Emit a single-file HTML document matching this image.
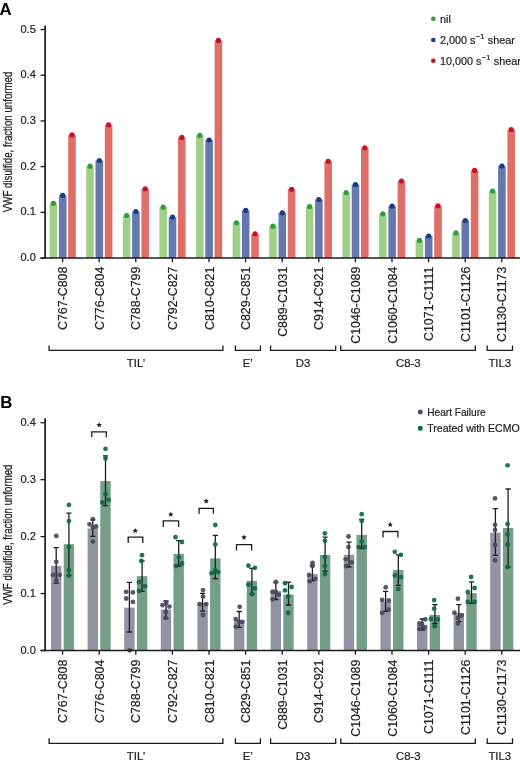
<!DOCTYPE html>
<html><head><meta charset="utf-8"><style>
html,body{margin:0;padding:0;background:#fff;}
svg{display:block;will-change:transform;}
text{font-family:"Liberation Sans", sans-serif;}
.t{stroke:#222;stroke-width:0.2px;}
</style></head><body>
<svg width="520" height="763" viewBox="0 0 520 763" font-family='"Liberation Sans", sans-serif'>
<rect width="520" height="763" fill="#fff"/>
<text x="-0.5" y="14.6" font-size="16.8" font-weight="bold">A</text>
<rect x="49.60" y="203.30" width="7.6" height="54.70" fill="#a0cf8a"/>
<rect x="58.90" y="195.40" width="7.6" height="62.60" fill="#6679ae"/>
<rect x="68.20" y="134.90" width="7.6" height="123.10" fill="#df6f66"/>
<rect x="86.20" y="166.20" width="7.6" height="91.80" fill="#a0cf8a"/>
<rect x="95.50" y="160.50" width="7.6" height="97.50" fill="#6679ae"/>
<rect x="104.80" y="124.80" width="7.6" height="133.20" fill="#df6f66"/>
<rect x="122.80" y="215.50" width="7.6" height="42.50" fill="#a0cf8a"/>
<rect x="132.10" y="211.60" width="7.6" height="46.40" fill="#6679ae"/>
<rect x="141.40" y="188.80" width="7.6" height="69.20" fill="#df6f66"/>
<rect x="159.40" y="207.20" width="7.6" height="50.80" fill="#a0cf8a"/>
<rect x="168.70" y="217.10" width="7.6" height="40.90" fill="#6679ae"/>
<rect x="178.00" y="137.40" width="7.6" height="120.60" fill="#df6f66"/>
<rect x="196.00" y="135.40" width="7.6" height="122.60" fill="#a0cf8a"/>
<rect x="205.30" y="140.00" width="7.6" height="118.00" fill="#6679ae"/>
<rect x="214.60" y="40.40" width="7.6" height="217.60" fill="#df6f66"/>
<rect x="232.60" y="222.80" width="7.6" height="35.20" fill="#a0cf8a"/>
<rect x="241.90" y="210.40" width="7.6" height="47.60" fill="#6679ae"/>
<rect x="251.20" y="233.80" width="7.6" height="24.20" fill="#df6f66"/>
<rect x="269.20" y="226.20" width="7.6" height="31.80" fill="#a0cf8a"/>
<rect x="278.50" y="212.80" width="7.6" height="45.20" fill="#6679ae"/>
<rect x="287.80" y="189.30" width="7.6" height="68.70" fill="#df6f66"/>
<rect x="305.80" y="206.60" width="7.6" height="51.40" fill="#a0cf8a"/>
<rect x="315.10" y="199.50" width="7.6" height="58.50" fill="#6679ae"/>
<rect x="324.40" y="161.30" width="7.6" height="96.70" fill="#df6f66"/>
<rect x="342.40" y="192.60" width="7.6" height="65.40" fill="#a0cf8a"/>
<rect x="351.70" y="184.50" width="7.6" height="73.50" fill="#6679ae"/>
<rect x="361.00" y="147.80" width="7.6" height="110.20" fill="#df6f66"/>
<rect x="379.00" y="213.80" width="7.6" height="44.20" fill="#a0cf8a"/>
<rect x="388.30" y="206.20" width="7.6" height="51.80" fill="#6679ae"/>
<rect x="397.60" y="181.10" width="7.6" height="76.90" fill="#df6f66"/>
<rect x="415.60" y="240.40" width="7.6" height="17.60" fill="#a0cf8a"/>
<rect x="424.90" y="236.00" width="7.6" height="22.00" fill="#6679ae"/>
<rect x="434.20" y="205.80" width="7.6" height="52.20" fill="#df6f66"/>
<rect x="452.20" y="232.90" width="7.6" height="25.10" fill="#a0cf8a"/>
<rect x="461.50" y="220.60" width="7.6" height="37.40" fill="#6679ae"/>
<rect x="470.80" y="170.40" width="7.6" height="87.60" fill="#df6f66"/>
<rect x="488.80" y="191.00" width="7.6" height="67.00" fill="#a0cf8a"/>
<rect x="498.10" y="166.00" width="7.6" height="92.00" fill="#6679ae"/>
<rect x="507.40" y="129.60" width="7.6" height="128.40" fill="#df6f66"/>
<circle cx="53.40" cy="203.30" r="2.6" fill="#2f9e35"/>
<circle cx="62.70" cy="195.40" r="2.6" fill="#173e7c"/>
<circle cx="72.00" cy="134.90" r="2.6" fill="#c5102b"/>
<circle cx="90.00" cy="166.20" r="2.6" fill="#2f9e35"/>
<circle cx="99.30" cy="160.50" r="2.6" fill="#173e7c"/>
<circle cx="108.60" cy="124.80" r="2.6" fill="#c5102b"/>
<circle cx="126.60" cy="215.50" r="2.6" fill="#2f9e35"/>
<circle cx="135.90" cy="211.60" r="2.6" fill="#173e7c"/>
<circle cx="145.20" cy="188.80" r="2.6" fill="#c5102b"/>
<circle cx="163.20" cy="207.20" r="2.6" fill="#2f9e35"/>
<circle cx="172.50" cy="217.10" r="2.6" fill="#173e7c"/>
<circle cx="181.80" cy="137.40" r="2.6" fill="#c5102b"/>
<circle cx="199.80" cy="135.40" r="2.6" fill="#2f9e35"/>
<circle cx="209.10" cy="140.00" r="2.6" fill="#173e7c"/>
<circle cx="218.40" cy="40.40" r="2.6" fill="#c5102b"/>
<circle cx="236.40" cy="222.80" r="2.6" fill="#2f9e35"/>
<circle cx="245.70" cy="210.40" r="2.6" fill="#173e7c"/>
<circle cx="255.00" cy="233.80" r="2.6" fill="#c5102b"/>
<circle cx="273.00" cy="226.20" r="2.6" fill="#2f9e35"/>
<circle cx="282.30" cy="212.80" r="2.6" fill="#173e7c"/>
<circle cx="291.60" cy="189.30" r="2.6" fill="#c5102b"/>
<circle cx="309.60" cy="206.60" r="2.6" fill="#2f9e35"/>
<circle cx="318.90" cy="199.50" r="2.6" fill="#173e7c"/>
<circle cx="328.20" cy="161.30" r="2.6" fill="#c5102b"/>
<circle cx="346.20" cy="192.60" r="2.6" fill="#2f9e35"/>
<circle cx="355.50" cy="184.50" r="2.6" fill="#173e7c"/>
<circle cx="364.80" cy="147.80" r="2.6" fill="#c5102b"/>
<circle cx="382.80" cy="213.80" r="2.6" fill="#2f9e35"/>
<circle cx="392.10" cy="206.20" r="2.6" fill="#173e7c"/>
<circle cx="401.40" cy="181.10" r="2.6" fill="#c5102b"/>
<circle cx="419.40" cy="240.40" r="2.6" fill="#2f9e35"/>
<circle cx="428.70" cy="236.00" r="2.6" fill="#173e7c"/>
<circle cx="438.00" cy="205.80" r="2.6" fill="#c5102b"/>
<circle cx="456.00" cy="232.90" r="2.6" fill="#2f9e35"/>
<circle cx="465.30" cy="220.60" r="2.6" fill="#173e7c"/>
<circle cx="474.60" cy="170.40" r="2.6" fill="#c5102b"/>
<circle cx="492.60" cy="191.00" r="2.6" fill="#2f9e35"/>
<circle cx="501.90" cy="166.00" r="2.6" fill="#173e7c"/>
<circle cx="511.20" cy="129.60" r="2.6" fill="#c5102b"/>
<line x1="45.1" y1="25.5" x2="45.1" y2="258.7" stroke="#1c1c1c" stroke-width="1.7"/>
<line x1="40.5" y1="258.0" x2="520" y2="258.0" stroke="#1c1c1c" stroke-width="1.5"/>
<line x1="40.5" y1="258.00" x2="45" y2="258.00" stroke="#1c1c1c" stroke-width="1.3"/>
<text x="35.8" y="261.00" font-size="11" text-anchor="end" fill="#222" class="t">0.0</text>
<line x1="40.5" y1="212.30" x2="45" y2="212.30" stroke="#1c1c1c" stroke-width="1.3"/>
<text x="35.8" y="215.30" font-size="11" text-anchor="end" fill="#222" class="t">0.1</text>
<line x1="40.5" y1="166.60" x2="45" y2="166.60" stroke="#1c1c1c" stroke-width="1.3"/>
<text x="35.8" y="169.60" font-size="11" text-anchor="end" fill="#222" class="t">0.2</text>
<line x1="40.5" y1="120.90" x2="45" y2="120.90" stroke="#1c1c1c" stroke-width="1.3"/>
<text x="35.8" y="123.90" font-size="11" text-anchor="end" fill="#222" class="t">0.3</text>
<line x1="40.5" y1="75.20" x2="45" y2="75.20" stroke="#1c1c1c" stroke-width="1.3"/>
<text x="35.8" y="78.20" font-size="11" text-anchor="end" fill="#222" class="t">0.4</text>
<line x1="40.5" y1="29.50" x2="45" y2="29.50" stroke="#1c1c1c" stroke-width="1.3"/>
<text x="35.8" y="32.50" font-size="11" text-anchor="end" fill="#222" class="t">0.5</text>
<line x1="62.60" y1="258.0" x2="62.60" y2="262.2" stroke="#1c1c1c" stroke-width="1.3"/>
<line x1="99.20" y1="258.0" x2="99.20" y2="262.2" stroke="#1c1c1c" stroke-width="1.3"/>
<line x1="135.80" y1="258.0" x2="135.80" y2="262.2" stroke="#1c1c1c" stroke-width="1.3"/>
<line x1="172.40" y1="258.0" x2="172.40" y2="262.2" stroke="#1c1c1c" stroke-width="1.3"/>
<line x1="209.00" y1="258.0" x2="209.00" y2="262.2" stroke="#1c1c1c" stroke-width="1.3"/>
<line x1="245.60" y1="258.0" x2="245.60" y2="262.2" stroke="#1c1c1c" stroke-width="1.3"/>
<line x1="282.20" y1="258.0" x2="282.20" y2="262.2" stroke="#1c1c1c" stroke-width="1.3"/>
<line x1="318.80" y1="258.0" x2="318.80" y2="262.2" stroke="#1c1c1c" stroke-width="1.3"/>
<line x1="355.40" y1="258.0" x2="355.40" y2="262.2" stroke="#1c1c1c" stroke-width="1.3"/>
<line x1="392.00" y1="258.0" x2="392.00" y2="262.2" stroke="#1c1c1c" stroke-width="1.3"/>
<line x1="428.60" y1="258.0" x2="428.60" y2="262.2" stroke="#1c1c1c" stroke-width="1.3"/>
<line x1="465.20" y1="258.0" x2="465.20" y2="262.2" stroke="#1c1c1c" stroke-width="1.3"/>
<line x1="501.80" y1="258.0" x2="501.80" y2="262.2" stroke="#1c1c1c" stroke-width="1.3"/>
<text transform="translate(67.10,266.6) rotate(-90)" font-size="12.4" text-anchor="end" fill="#222" class="t">C767-C808</text>
<text transform="translate(103.70,266.6) rotate(-90)" font-size="12.4" text-anchor="end" fill="#222" class="t">C776-C804</text>
<text transform="translate(140.30,266.6) rotate(-90)" font-size="12.4" text-anchor="end" fill="#222" class="t">C788-C799</text>
<text transform="translate(176.90,266.6) rotate(-90)" font-size="12.4" text-anchor="end" fill="#222" class="t">C792-C827</text>
<text transform="translate(213.50,266.6) rotate(-90)" font-size="12.4" text-anchor="end" fill="#222" class="t">C810-C821</text>
<text transform="translate(250.10,266.6) rotate(-90)" font-size="12.4" text-anchor="end" fill="#222" class="t">C829-C851</text>
<text transform="translate(286.70,266.6) rotate(-90)" font-size="12.4" text-anchor="end" fill="#222" class="t">C889-C1031</text>
<text transform="translate(323.30,266.6) rotate(-90)" font-size="12.4" text-anchor="end" fill="#222" class="t">C914-C921</text>
<text transform="translate(359.90,266.6) rotate(-90)" font-size="12.4" text-anchor="end" fill="#222" class="t">C1046-C1089</text>
<text transform="translate(396.50,266.6) rotate(-90)" font-size="12.4" text-anchor="end" fill="#222" class="t">C1060-C1084</text>
<text transform="translate(433.10,266.6) rotate(-90)" font-size="12.4" text-anchor="end" fill="#222" class="t">C1071-C1111</text>
<text transform="translate(469.70,266.6) rotate(-90)" font-size="12.4" text-anchor="end" fill="#222" class="t">C1101-C1126</text>
<text transform="translate(506.30,266.6) rotate(-90)" font-size="12.4" text-anchor="end" fill="#222" class="t">C1130-C1173</text>
<text transform="translate(12.1,141.9) rotate(-90)" font-size="12.4" text-anchor="middle" textLength="140.5" lengthAdjust="spacingAndGlyphs" fill="#222" stroke="#222" stroke-width="0.25">VWF disulfide, fraction unformed</text>
<path d="M49.1,345.4 V350.4 H222.9 V345.4" fill="none" stroke="#1c1c1c" stroke-width="1.3"/>
<text x="136.0" y="367.3" font-size="11.4" text-anchor="middle" fill="#222" class="t">TIL’</text>
<path d="M235.4,345.4 V350.4 H260.4 V345.4" fill="none" stroke="#1c1c1c" stroke-width="1.3"/>
<text x="247.8" y="367.3" font-size="11.4" text-anchor="middle" fill="#222" class="t">E’</text>
<path d="M270.6,345.4 V350.4 H335.7 V345.4" fill="none" stroke="#1c1c1c" stroke-width="1.3"/>
<text x="303.1" y="367.3" font-size="11.4" text-anchor="middle" fill="#222" class="t">D3</text>
<path d="M340.8,345.4 V350.4 H475.3 V345.4" fill="none" stroke="#1c1c1c" stroke-width="1.3"/>
<text x="408.3" y="367.3" font-size="11.4" text-anchor="middle" fill="#222" class="t">C8-3</text>
<path d="M487.2,345.4 V350.4 H512.5 V345.4" fill="none" stroke="#1c1c1c" stroke-width="1.3"/>
<text x="499.8" y="367.3" font-size="11.4" text-anchor="middle" fill="#222" class="t">TIL3</text>
<circle cx="433.3" cy="18.8" r="2.3" fill="#2f9e35"/>
<text x="440" y="22.6" font-size="10.8" fill="#222" class="t">nil</text>
<circle cx="433.3" cy="40.0" r="2.3" fill="#173e7c"/>
<text x="440" y="43.8" font-size="10.8" fill="#222" class="t">2,000 s<tspan dx="0.4" dy="-5" font-size="7.4">−1</tspan><tspan dx="0.6" dy="5"> shear</tspan></text>
<circle cx="433.3" cy="60.8" r="2.3" fill="#c5102b"/>
<text x="440" y="64.6" font-size="10.8" fill="#222" class="t">10,000 s<tspan dx="0.4" dy="-5" font-size="7.4">−1</tspan><tspan dx="0.6" dy="5"> shear</tspan></text>
<text x="0.2" y="407.6" font-size="16.8" font-weight="bold">B</text>
<rect x="51.00" y="565.90" width="10.4" height="84.60" fill="#9394a3"/>
<rect x="63.70" y="544.20" width="10.4" height="106.30" fill="#759e87"/>
<rect x="87.60" y="528.50" width="10.4" height="122.00" fill="#9394a3"/>
<rect x="100.30" y="481.00" width="10.4" height="169.50" fill="#759e87"/>
<rect x="124.20" y="607.60" width="10.4" height="42.90" fill="#9394a3"/>
<rect x="136.90" y="576.10" width="10.4" height="74.40" fill="#759e87"/>
<rect x="160.80" y="609.60" width="10.4" height="40.90" fill="#9394a3"/>
<rect x="173.50" y="553.80" width="10.4" height="96.70" fill="#759e87"/>
<rect x="197.40" y="602.90" width="10.4" height="47.60" fill="#9394a3"/>
<rect x="210.10" y="558.30" width="10.4" height="92.20" fill="#759e87"/>
<rect x="234.00" y="620.20" width="10.4" height="30.30" fill="#9394a3"/>
<rect x="246.70" y="580.80" width="10.4" height="69.70" fill="#759e87"/>
<rect x="270.60" y="591.00" width="10.4" height="59.50" fill="#9394a3"/>
<rect x="283.30" y="594.60" width="10.4" height="55.90" fill="#759e87"/>
<rect x="307.20" y="574.00" width="10.4" height="76.50" fill="#9394a3"/>
<rect x="319.90" y="555.00" width="10.4" height="95.50" fill="#759e87"/>
<rect x="343.80" y="554.80" width="10.4" height="95.70" fill="#9394a3"/>
<rect x="356.50" y="534.90" width="10.4" height="115.60" fill="#759e87"/>
<rect x="380.40" y="601.50" width="10.4" height="49.00" fill="#9394a3"/>
<rect x="393.10" y="570.00" width="10.4" height="80.50" fill="#759e87"/>
<rect x="417.00" y="624.80" width="10.4" height="25.70" fill="#9394a3"/>
<rect x="429.70" y="614.90" width="10.4" height="35.60" fill="#759e87"/>
<rect x="453.60" y="613.00" width="10.4" height="37.50" fill="#9394a3"/>
<rect x="466.30" y="593.10" width="10.4" height="57.40" fill="#759e87"/>
<rect x="490.20" y="532.60" width="10.4" height="117.90" fill="#9394a3"/>
<rect x="502.90" y="528.00" width="10.4" height="122.50" fill="#759e87"/>
<path d="M56.20,547.70 V583.20 M53.60,547.70 H58.80 M53.60,583.20 H58.80" stroke="#1e1e24" stroke-width="1.3" fill="none"/>
<circle cx="56.30" cy="535.90" r="2.4" fill="#474a5f" fill-opacity="0.92"/>
<circle cx="56.30" cy="561.80" r="2.4" fill="#474a5f" fill-opacity="0.92"/>
<circle cx="52.90" cy="574.90" r="2.4" fill="#474a5f" fill-opacity="0.92"/>
<circle cx="59.60" cy="574.90" r="2.4" fill="#474a5f" fill-opacity="0.92"/>
<circle cx="56.30" cy="580.40" r="2.4" fill="#474a5f" fill-opacity="0.92"/>
<path d="M68.90,513.10 V575.30 M66.30,513.10 H71.50 M66.30,575.30 H71.50" stroke="#1e1e24" stroke-width="1.3" fill="none"/>
<circle cx="68.90" cy="504.90" r="2.4" fill="#0c6a48" fill-opacity="0.92"/>
<circle cx="68.90" cy="521.10" r="2.4" fill="#0c6a48" fill-opacity="0.92"/>
<circle cx="68.90" cy="546.90" r="2.4" fill="#0c6a48" fill-opacity="0.92"/>
<circle cx="68.90" cy="570.20" r="2.4" fill="#0c6a48" fill-opacity="0.92"/>
<circle cx="68.90" cy="575.70" r="2.4" fill="#0c6a48" fill-opacity="0.92"/>
<path d="M92.80,519.90 V536.40 M90.20,519.90 H95.40 M90.20,536.40 H95.40" stroke="#1e1e24" stroke-width="1.3" fill="none"/>
<circle cx="92.90" cy="519.10" r="2.4" fill="#474a5f" fill-opacity="0.92"/>
<circle cx="89.50" cy="524.30" r="2.4" fill="#474a5f" fill-opacity="0.92"/>
<circle cx="96.10" cy="526.50" r="2.4" fill="#474a5f" fill-opacity="0.92"/>
<circle cx="92.90" cy="527.50" r="2.4" fill="#474a5f" fill-opacity="0.92"/>
<circle cx="92.90" cy="541.60" r="2.4" fill="#474a5f" fill-opacity="0.92"/>
<path d="M105.50,455.80 V505.70 M102.90,455.80 H108.10 M102.90,505.70 H108.10" stroke="#1e1e24" stroke-width="1.3" fill="none"/>
<circle cx="105.50" cy="448.80" r="2.4" fill="#0c6a48" fill-opacity="0.92"/>
<circle cx="105.50" cy="458.50" r="2.4" fill="#0c6a48" fill-opacity="0.92"/>
<circle cx="105.50" cy="494.20" r="2.4" fill="#0c6a48" fill-opacity="0.92"/>
<circle cx="102.40" cy="502.50" r="2.4" fill="#0c6a48" fill-opacity="0.92"/>
<circle cx="108.60" cy="499.80" r="2.4" fill="#0c6a48" fill-opacity="0.92"/>
<path d="M91.8,437.3 V431.8 H106.3 V437.3" fill="none" stroke="#1c1c1c" stroke-width="1.3"/>
<polygon points="99.20,422.10 99.96,423.95 101.96,424.10 100.44,425.40 100.90,427.35 99.20,426.30 97.50,427.35 97.96,425.40 96.44,424.10 98.44,423.95" fill="#1e1e1e"/>
<path d="M129.40,582.40 V632.00 M126.80,582.40 H132.00 M126.80,632.00 H132.00" stroke="#1e1e24" stroke-width="1.3" fill="none"/>
<circle cx="126.20" cy="591.80" r="2.4" fill="#474a5f" fill-opacity="0.92"/>
<circle cx="132.90" cy="592.40" r="2.4" fill="#474a5f" fill-opacity="0.92"/>
<circle cx="126.20" cy="598.50" r="2.4" fill="#474a5f" fill-opacity="0.92"/>
<circle cx="132.90" cy="601.90" r="2.4" fill="#474a5f" fill-opacity="0.92"/>
<circle cx="129.60" cy="650.30" r="2.4" fill="#474a5f" fill-opacity="0.92"/>
<path d="M142.10,560.90 V591.40 M139.50,560.90 H144.70 M139.50,591.40 H144.70" stroke="#1e1e24" stroke-width="1.3" fill="none"/>
<circle cx="142.00" cy="555.20" r="2.4" fill="#0c6a48" fill-opacity="0.92"/>
<circle cx="141.40" cy="560.90" r="2.4" fill="#0c6a48" fill-opacity="0.92"/>
<circle cx="139.00" cy="582.20" r="2.4" fill="#0c6a48" fill-opacity="0.92"/>
<circle cx="145.00" cy="586.30" r="2.4" fill="#0c6a48" fill-opacity="0.92"/>
<circle cx="139.00" cy="591.00" r="2.4" fill="#0c6a48" fill-opacity="0.92"/>
<path d="M128.2,543 V537.2 H142.8 V543" fill="none" stroke="#1c1c1c" stroke-width="1.3"/>
<polygon points="135.30,527.90 136.06,529.75 138.06,529.90 136.54,531.20 137.00,533.15 135.30,532.10 133.60,533.15 134.06,531.20 132.54,529.90 134.54,529.75" fill="#1e1e1e"/>
<path d="M166.00,601.00 V618.50 M163.40,601.00 H168.60 M163.40,618.50 H168.60" stroke="#1e1e24" stroke-width="1.3" fill="none"/>
<circle cx="162.50" cy="605.20" r="2.4" fill="#474a5f" fill-opacity="0.92"/>
<circle cx="166.20" cy="603.00" r="2.4" fill="#474a5f" fill-opacity="0.92"/>
<circle cx="169.40" cy="606.60" r="2.4" fill="#474a5f" fill-opacity="0.92"/>
<circle cx="165.80" cy="611.70" r="2.4" fill="#474a5f" fill-opacity="0.92"/>
<circle cx="165.80" cy="617.80" r="2.4" fill="#474a5f" fill-opacity="0.92"/>
<path d="M178.70,540.60 V566.00 M176.10,540.60 H181.30 M176.10,566.00 H181.30" stroke="#1e1e24" stroke-width="1.3" fill="none"/>
<circle cx="175.50" cy="537.20" r="2.4" fill="#0c6a48" fill-opacity="0.92"/>
<circle cx="182.00" cy="542.00" r="2.4" fill="#0c6a48" fill-opacity="0.92"/>
<circle cx="179.00" cy="557.30" r="2.4" fill="#0c6a48" fill-opacity="0.92"/>
<circle cx="175.90" cy="566.00" r="2.4" fill="#0c6a48" fill-opacity="0.92"/>
<circle cx="182.00" cy="563.40" r="2.4" fill="#0c6a48" fill-opacity="0.92"/>
<path d="M163.3,527 V520.9 H178.6 V527" fill="none" stroke="#1c1c1c" stroke-width="1.3"/>
<polygon points="170.80,511.60 171.56,513.45 173.56,513.60 172.04,514.90 172.50,516.85 170.80,515.80 169.10,516.85 169.56,514.90 168.04,513.60 170.04,513.45" fill="#1e1e1e"/>
<path d="M202.60,593.40 V611.10 M200.00,593.40 H205.20 M200.00,611.10 H205.20" stroke="#1e1e24" stroke-width="1.3" fill="none"/>
<circle cx="203.00" cy="590.10" r="2.4" fill="#474a5f" fill-opacity="0.92"/>
<circle cx="203.00" cy="596.60" r="2.4" fill="#474a5f" fill-opacity="0.92"/>
<circle cx="199.70" cy="604.20" r="2.4" fill="#474a5f" fill-opacity="0.92"/>
<circle cx="206.20" cy="604.20" r="2.4" fill="#474a5f" fill-opacity="0.92"/>
<circle cx="203.00" cy="615.00" r="2.4" fill="#474a5f" fill-opacity="0.92"/>
<path d="M215.30,535.40 V578.60 M212.70,535.40 H217.90 M212.70,578.60 H217.90" stroke="#1e1e24" stroke-width="1.3" fill="none"/>
<circle cx="215.30" cy="525.00" r="2.4" fill="#0c6a48" fill-opacity="0.92"/>
<circle cx="215.30" cy="544.50" r="2.4" fill="#0c6a48" fill-opacity="0.92"/>
<circle cx="211.60" cy="573.20" r="2.4" fill="#0c6a48" fill-opacity="0.92"/>
<circle cx="218.10" cy="572.20" r="2.4" fill="#0c6a48" fill-opacity="0.92"/>
<circle cx="215.30" cy="570.40" r="2.4" fill="#0c6a48" fill-opacity="0.92"/>
<path d="M199.1,513.8 V508.4 H213.4 V513.8" fill="none" stroke="#1c1c1c" stroke-width="1.3"/>
<polygon points="206.20,498.20 206.96,500.05 208.96,500.20 207.44,501.50 207.90,503.45 206.20,502.40 204.50,503.45 204.96,501.50 203.44,500.20 205.44,500.05" fill="#1e1e1e"/>
<path d="M239.20,611.50 V627.30 M236.60,611.50 H241.80 M236.60,627.30 H241.80" stroke="#1e1e24" stroke-width="1.3" fill="none"/>
<circle cx="239.70" cy="606.80" r="2.4" fill="#474a5f" fill-opacity="0.92"/>
<circle cx="235.80" cy="619.10" r="2.4" fill="#474a5f" fill-opacity="0.92"/>
<circle cx="242.30" cy="621.90" r="2.4" fill="#474a5f" fill-opacity="0.92"/>
<circle cx="235.80" cy="626.60" r="2.4" fill="#474a5f" fill-opacity="0.92"/>
<circle cx="239.20" cy="622.00" r="2.4" fill="#474a5f" fill-opacity="0.92"/>
<path d="M251.90,568.30 V593.80 M249.30,568.30 H254.50 M249.30,593.80 H254.50" stroke="#1e1e24" stroke-width="1.3" fill="none"/>
<circle cx="248.40" cy="565.70" r="2.4" fill="#0c6a48" fill-opacity="0.92"/>
<circle cx="254.90" cy="567.80" r="2.4" fill="#0c6a48" fill-opacity="0.92"/>
<circle cx="248.40" cy="584.70" r="2.4" fill="#0c6a48" fill-opacity="0.92"/>
<circle cx="254.90" cy="588.40" r="2.4" fill="#0c6a48" fill-opacity="0.92"/>
<circle cx="252.00" cy="594.20" r="2.4" fill="#0c6a48" fill-opacity="0.92"/>
<path d="M236.5,550.5 V544.7 H251.6 V550.5" fill="none" stroke="#1c1c1c" stroke-width="1.3"/>
<polygon points="244.00,534.50 244.76,536.35 246.76,536.50 245.24,537.80 245.70,539.75 244.00,538.70 242.30,539.75 242.76,537.80 241.24,536.50 243.24,536.35" fill="#1e1e1e"/>
<path d="M275.80,582.50 V599.50 M273.20,582.50 H278.40 M273.20,599.50 H278.40" stroke="#1e1e24" stroke-width="1.3" fill="none"/>
<circle cx="275.80" cy="581.80" r="2.4" fill="#474a5f" fill-opacity="0.92"/>
<circle cx="272.60" cy="591.70" r="2.4" fill="#474a5f" fill-opacity="0.92"/>
<circle cx="278.70" cy="594.60" r="2.4" fill="#474a5f" fill-opacity="0.92"/>
<circle cx="272.60" cy="599.30" r="2.4" fill="#474a5f" fill-opacity="0.92"/>
<circle cx="275.80" cy="592.00" r="2.4" fill="#474a5f" fill-opacity="0.92"/>
<path d="M288.50,582.20 V605.00 M285.90,582.20 H291.10 M285.90,605.00 H291.10" stroke="#1e1e24" stroke-width="1.3" fill="none"/>
<circle cx="285.00" cy="583.20" r="2.4" fill="#0c6a48" fill-opacity="0.92"/>
<circle cx="291.60" cy="587.00" r="2.4" fill="#0c6a48" fill-opacity="0.92"/>
<circle cx="285.00" cy="590.40" r="2.4" fill="#0c6a48" fill-opacity="0.92"/>
<circle cx="288.20" cy="596.50" r="2.4" fill="#0c6a48" fill-opacity="0.92"/>
<circle cx="288.20" cy="613.00" r="2.4" fill="#0c6a48" fill-opacity="0.92"/>
<path d="M312.40,565.50 V580.70 M309.80,565.50 H315.00 M309.80,580.70 H315.00" stroke="#1e1e24" stroke-width="1.3" fill="none"/>
<circle cx="312.50" cy="562.80" r="2.4" fill="#474a5f" fill-opacity="0.92"/>
<circle cx="312.50" cy="566.00" r="2.4" fill="#474a5f" fill-opacity="0.92"/>
<circle cx="309.10" cy="575.00" r="2.4" fill="#474a5f" fill-opacity="0.92"/>
<circle cx="315.40" cy="578.80" r="2.4" fill="#474a5f" fill-opacity="0.92"/>
<circle cx="309.70" cy="581.30" r="2.4" fill="#474a5f" fill-opacity="0.92"/>
<path d="M325.10,537.20 V571.20 M322.50,537.20 H327.70 M322.50,571.20 H327.70" stroke="#1e1e24" stroke-width="1.3" fill="none"/>
<circle cx="324.90" cy="533.40" r="2.4" fill="#0c6a48" fill-opacity="0.92"/>
<circle cx="324.90" cy="540.80" r="2.4" fill="#0c6a48" fill-opacity="0.92"/>
<circle cx="324.90" cy="556.90" r="2.4" fill="#0c6a48" fill-opacity="0.92"/>
<circle cx="324.90" cy="566.00" r="2.4" fill="#0c6a48" fill-opacity="0.92"/>
<circle cx="324.90" cy="574.00" r="2.4" fill="#0c6a48" fill-opacity="0.92"/>
<path d="M349.00,542.20 V567.00 M346.40,542.20 H351.60 M346.40,567.00 H351.60" stroke="#1e1e24" stroke-width="1.3" fill="none"/>
<circle cx="348.50" cy="536.50" r="2.4" fill="#474a5f" fill-opacity="0.92"/>
<circle cx="348.50" cy="547.10" r="2.4" fill="#474a5f" fill-opacity="0.92"/>
<circle cx="345.70" cy="559.30" r="2.4" fill="#474a5f" fill-opacity="0.92"/>
<circle cx="351.80" cy="562.50" r="2.4" fill="#474a5f" fill-opacity="0.92"/>
<circle cx="346.10" cy="566.00" r="2.4" fill="#474a5f" fill-opacity="0.92"/>
<path d="M361.70,519.30 V548.70 M359.10,519.30 H364.30 M359.10,548.70 H364.30" stroke="#1e1e24" stroke-width="1.3" fill="none"/>
<circle cx="361.70" cy="514.20" r="2.4" fill="#0c6a48" fill-opacity="0.92"/>
<circle cx="361.70" cy="520.90" r="2.4" fill="#0c6a48" fill-opacity="0.92"/>
<circle cx="361.70" cy="541.60" r="2.4" fill="#0c6a48" fill-opacity="0.92"/>
<circle cx="358.70" cy="547.10" r="2.4" fill="#0c6a48" fill-opacity="0.92"/>
<circle cx="364.80" cy="547.10" r="2.4" fill="#0c6a48" fill-opacity="0.92"/>
<path d="M385.60,591.40 V611.30 M383.00,591.40 H388.20 M383.00,611.30 H388.20" stroke="#1e1e24" stroke-width="1.3" fill="none"/>
<circle cx="385.70" cy="587.30" r="2.4" fill="#474a5f" fill-opacity="0.92"/>
<circle cx="382.20" cy="599.90" r="2.4" fill="#474a5f" fill-opacity="0.92"/>
<circle cx="388.70" cy="600.50" r="2.4" fill="#474a5f" fill-opacity="0.92"/>
<circle cx="382.20" cy="612.90" r="2.4" fill="#474a5f" fill-opacity="0.92"/>
<circle cx="388.70" cy="609.60" r="2.4" fill="#474a5f" fill-opacity="0.92"/>
<path d="M398.30,554.80 V585.30 M395.70,554.80 H400.90 M395.70,585.30 H400.90" stroke="#1e1e24" stroke-width="1.3" fill="none"/>
<circle cx="394.80" cy="551.80" r="2.4" fill="#0c6a48" fill-opacity="0.92"/>
<circle cx="400.90" cy="554.80" r="2.4" fill="#0c6a48" fill-opacity="0.92"/>
<circle cx="394.80" cy="575.50" r="2.4" fill="#0c6a48" fill-opacity="0.92"/>
<circle cx="400.90" cy="577.20" r="2.4" fill="#0c6a48" fill-opacity="0.92"/>
<circle cx="398.30" cy="588.90" r="2.4" fill="#0c6a48" fill-opacity="0.92"/>
<path d="M383,537.6 V531.5 H397.9 V537.6" fill="none" stroke="#1c1c1c" stroke-width="1.3"/>
<polygon points="390.20,521.80 390.96,523.65 392.96,523.80 391.44,525.10 391.90,527.05 390.20,526.00 388.50,527.05 388.96,525.10 387.44,523.80 389.44,523.65" fill="#1e1e1e"/>
<path d="M422.20,619.00 V630.00 M419.60,619.00 H424.80 M419.60,630.00 H424.80" stroke="#1e1e24" stroke-width="1.3" fill="none"/>
<circle cx="419.40" cy="623.50" r="2.4" fill="#474a5f" fill-opacity="0.92"/>
<circle cx="425.30" cy="619.40" r="2.4" fill="#474a5f" fill-opacity="0.92"/>
<circle cx="422.00" cy="624.00" r="2.4" fill="#474a5f" fill-opacity="0.92"/>
<circle cx="419.40" cy="628.90" r="2.4" fill="#474a5f" fill-opacity="0.92"/>
<circle cx="424.80" cy="627.50" r="2.4" fill="#474a5f" fill-opacity="0.92"/>
<path d="M434.90,604.70 V623.50 M432.30,604.70 H437.50 M432.30,623.50 H437.50" stroke="#1e1e24" stroke-width="1.3" fill="none"/>
<circle cx="434.20" cy="600.10" r="2.4" fill="#0c6a48" fill-opacity="0.92"/>
<circle cx="434.20" cy="608.70" r="2.4" fill="#0c6a48" fill-opacity="0.92"/>
<circle cx="431.00" cy="618.90" r="2.4" fill="#0c6a48" fill-opacity="0.92"/>
<circle cx="437.70" cy="619.40" r="2.4" fill="#0c6a48" fill-opacity="0.92"/>
<circle cx="434.70" cy="626.20" r="2.4" fill="#0c6a48" fill-opacity="0.92"/>
<path d="M458.80,604.70 V621.60 M456.20,604.70 H461.40 M456.20,621.60 H461.40" stroke="#1e1e24" stroke-width="1.3" fill="none"/>
<circle cx="457.90" cy="598.70" r="2.4" fill="#474a5f" fill-opacity="0.92"/>
<circle cx="454.40" cy="612.70" r="2.4" fill="#474a5f" fill-opacity="0.92"/>
<circle cx="461.60" cy="615.40" r="2.4" fill="#474a5f" fill-opacity="0.92"/>
<circle cx="457.90" cy="623.50" r="2.4" fill="#474a5f" fill-opacity="0.92"/>
<circle cx="457.90" cy="618.00" r="2.4" fill="#474a5f" fill-opacity="0.92"/>
<path d="M471.50,581.80 V603.30 M468.90,581.80 H474.10 M468.90,603.30 H474.10" stroke="#1e1e24" stroke-width="1.3" fill="none"/>
<circle cx="471.10" cy="577.00" r="2.4" fill="#0c6a48" fill-opacity="0.92"/>
<circle cx="474.60" cy="588.00" r="2.4" fill="#0c6a48" fill-opacity="0.92"/>
<circle cx="467.80" cy="592.00" r="2.4" fill="#0c6a48" fill-opacity="0.92"/>
<circle cx="467.80" cy="602.00" r="2.4" fill="#0c6a48" fill-opacity="0.92"/>
<circle cx="474.60" cy="602.00" r="2.4" fill="#0c6a48" fill-opacity="0.92"/>
<path d="M495.40,508.60 V555.40 M492.80,508.60 H498.00 M492.80,555.40 H498.00" stroke="#1e1e24" stroke-width="1.3" fill="none"/>
<circle cx="495.00" cy="498.40" r="2.4" fill="#474a5f" fill-opacity="0.92"/>
<circle cx="495.00" cy="524.80" r="2.4" fill="#474a5f" fill-opacity="0.92"/>
<circle cx="495.00" cy="529.90" r="2.4" fill="#474a5f" fill-opacity="0.92"/>
<circle cx="495.00" cy="544.90" r="2.4" fill="#474a5f" fill-opacity="0.92"/>
<circle cx="495.00" cy="560.30" r="2.4" fill="#474a5f" fill-opacity="0.92"/>
<path d="M508.10,489.00 V567.00 M505.50,489.00 H510.70 M505.50,567.00 H510.70" stroke="#1e1e24" stroke-width="1.3" fill="none"/>
<circle cx="507.60" cy="465.30" r="2.4" fill="#0c6a48" fill-opacity="0.92"/>
<circle cx="507.60" cy="524.00" r="2.4" fill="#0c6a48" fill-opacity="0.92"/>
<circle cx="507.60" cy="534.20" r="2.4" fill="#0c6a48" fill-opacity="0.92"/>
<circle cx="507.60" cy="544.70" r="2.4" fill="#0c6a48" fill-opacity="0.92"/>
<circle cx="507.60" cy="567.00" r="2.4" fill="#0c6a48" fill-opacity="0.92"/>
<line x1="45.1" y1="418.3" x2="45.1" y2="651.2" stroke="#1c1c1c" stroke-width="1.7"/>
<line x1="40.5" y1="650.5" x2="520" y2="650.5" stroke="#1c1c1c" stroke-width="1.5"/>
<line x1="40.5" y1="650.50" x2="45" y2="650.50" stroke="#1c1c1c" stroke-width="1.3"/>
<text x="35.8" y="653.50" font-size="11" text-anchor="end" fill="#222" class="t">0.0</text>
<line x1="40.5" y1="593.55" x2="45" y2="593.55" stroke="#1c1c1c" stroke-width="1.3"/>
<text x="35.8" y="596.55" font-size="11" text-anchor="end" fill="#222" class="t">0.1</text>
<line x1="40.5" y1="536.60" x2="45" y2="536.60" stroke="#1c1c1c" stroke-width="1.3"/>
<text x="35.8" y="539.60" font-size="11" text-anchor="end" fill="#222" class="t">0.2</text>
<line x1="40.5" y1="479.65" x2="45" y2="479.65" stroke="#1c1c1c" stroke-width="1.3"/>
<text x="35.8" y="482.65" font-size="11" text-anchor="end" fill="#222" class="t">0.3</text>
<line x1="40.5" y1="422.70" x2="45" y2="422.70" stroke="#1c1c1c" stroke-width="1.3"/>
<text x="35.8" y="425.70" font-size="11" text-anchor="end" fill="#222" class="t">0.4</text>
<line x1="62.60" y1="650.5" x2="62.60" y2="654.7" stroke="#1c1c1c" stroke-width="1.3"/>
<line x1="99.20" y1="650.5" x2="99.20" y2="654.7" stroke="#1c1c1c" stroke-width="1.3"/>
<line x1="135.80" y1="650.5" x2="135.80" y2="654.7" stroke="#1c1c1c" stroke-width="1.3"/>
<line x1="172.40" y1="650.5" x2="172.40" y2="654.7" stroke="#1c1c1c" stroke-width="1.3"/>
<line x1="209.00" y1="650.5" x2="209.00" y2="654.7" stroke="#1c1c1c" stroke-width="1.3"/>
<line x1="245.60" y1="650.5" x2="245.60" y2="654.7" stroke="#1c1c1c" stroke-width="1.3"/>
<line x1="282.20" y1="650.5" x2="282.20" y2="654.7" stroke="#1c1c1c" stroke-width="1.3"/>
<line x1="318.80" y1="650.5" x2="318.80" y2="654.7" stroke="#1c1c1c" stroke-width="1.3"/>
<line x1="355.40" y1="650.5" x2="355.40" y2="654.7" stroke="#1c1c1c" stroke-width="1.3"/>
<line x1="392.00" y1="650.5" x2="392.00" y2="654.7" stroke="#1c1c1c" stroke-width="1.3"/>
<line x1="428.60" y1="650.5" x2="428.60" y2="654.7" stroke="#1c1c1c" stroke-width="1.3"/>
<line x1="465.20" y1="650.5" x2="465.20" y2="654.7" stroke="#1c1c1c" stroke-width="1.3"/>
<line x1="501.80" y1="650.5" x2="501.80" y2="654.7" stroke="#1c1c1c" stroke-width="1.3"/>
<text transform="translate(67.10,659.6) rotate(-90)" font-size="12.4" text-anchor="end" fill="#222" class="t">C767-C808</text>
<text transform="translate(103.70,659.6) rotate(-90)" font-size="12.4" text-anchor="end" fill="#222" class="t">C776-C804</text>
<text transform="translate(140.30,659.6) rotate(-90)" font-size="12.4" text-anchor="end" fill="#222" class="t">C788-C799</text>
<text transform="translate(176.90,659.6) rotate(-90)" font-size="12.4" text-anchor="end" fill="#222" class="t">C792-C827</text>
<text transform="translate(213.50,659.6) rotate(-90)" font-size="12.4" text-anchor="end" fill="#222" class="t">C810-C821</text>
<text transform="translate(250.10,659.6) rotate(-90)" font-size="12.4" text-anchor="end" fill="#222" class="t">C829-C851</text>
<text transform="translate(286.70,659.6) rotate(-90)" font-size="12.4" text-anchor="end" fill="#222" class="t">C889-C1031</text>
<text transform="translate(323.30,659.6) rotate(-90)" font-size="12.4" text-anchor="end" fill="#222" class="t">C914-C921</text>
<text transform="translate(359.90,659.6) rotate(-90)" font-size="12.4" text-anchor="end" fill="#222" class="t">C1046-C1089</text>
<text transform="translate(396.50,659.6) rotate(-90)" font-size="12.4" text-anchor="end" fill="#222" class="t">C1060-C1084</text>
<text transform="translate(433.10,659.6) rotate(-90)" font-size="12.4" text-anchor="end" fill="#222" class="t">C1071-C1111</text>
<text transform="translate(469.70,659.6) rotate(-90)" font-size="12.4" text-anchor="end" fill="#222" class="t">C1101-C1126</text>
<text transform="translate(506.30,659.6) rotate(-90)" font-size="12.4" text-anchor="end" fill="#222" class="t">C1130-C1173</text>
<text transform="translate(12.1,534.6) rotate(-90)" font-size="12.4" text-anchor="middle" textLength="140.2" lengthAdjust="spacingAndGlyphs" fill="#222" stroke="#222" stroke-width="0.25">VWF disulfide, fraction unformed</text>
<path d="M49.1,738.3 V743.3 H222.9 V738.3" fill="none" stroke="#1c1c1c" stroke-width="1.3"/>
<text x="136.0" y="760.2" font-size="11.4" text-anchor="middle" fill="#222" class="t">TIL’</text>
<path d="M235.4,738.3 V743.3 H260.4 V738.3" fill="none" stroke="#1c1c1c" stroke-width="1.3"/>
<text x="247.8" y="760.2" font-size="11.4" text-anchor="middle" fill="#222" class="t">E’</text>
<path d="M270.6,738.3 V743.3 H335.7 V738.3" fill="none" stroke="#1c1c1c" stroke-width="1.3"/>
<text x="303.1" y="760.2" font-size="11.4" text-anchor="middle" fill="#222" class="t">D3</text>
<path d="M340.8,738.3 V743.3 H475.3 V738.3" fill="none" stroke="#1c1c1c" stroke-width="1.3"/>
<text x="408.3" y="760.2" font-size="11.4" text-anchor="middle" fill="#222" class="t">C8-3</text>
<path d="M487.2,738.3 V743.3 H512.5 V738.3" fill="none" stroke="#1c1c1c" stroke-width="1.3"/>
<text x="499.8" y="760.2" font-size="11.4" text-anchor="middle" fill="#222" class="t">TIL3</text>
<circle cx="420.3" cy="412.0" r="2.5" fill="#4e5166"/>
<text x="427.2" y="415.6" font-size="10.3" textLength="58.5" lengthAdjust="spacingAndGlyphs" fill="#222" class="t">Heart Failure</text>
<circle cx="420.3" cy="428.3" r="2.5" fill="#0c6a48"/>
<text x="427.2" y="431.9" font-size="10.3" textLength="92.5" lengthAdjust="spacingAndGlyphs" fill="#222" class="t">Treated with ECMO</text>
</svg>
</body></html>
